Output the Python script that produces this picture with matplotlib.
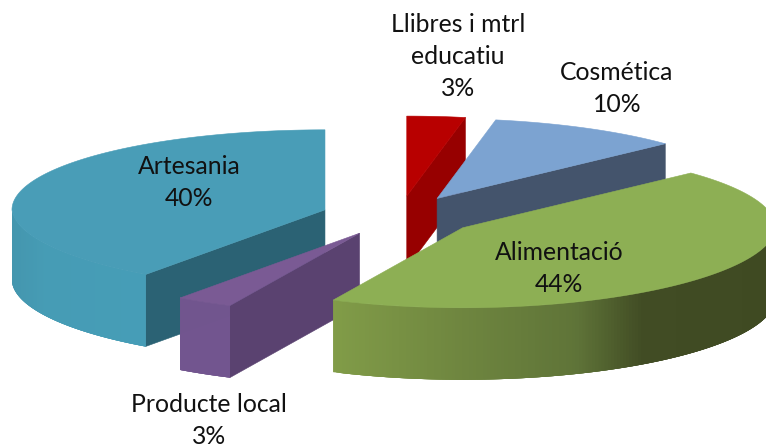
import numpy as np
import matplotlib
matplotlib.use("Agg")
import matplotlib.pyplot as plt
from matplotlib.colors import to_rgb
from matplotlib.collections import PolyCollection

# --- data (clockwise from 12 o'clock) ---
categories = ["Llibres i mtrl\neducatiu", "Cosmética", "Alimentació", "Producte local", "Artesania"]
values = [3, 10, 44, 3, 40]

# --- styles ---
top_colors = ["#B80000", "#7CA3D1", "#8DAF54", "#7A5A94", "#499DB7"]
cut_colors = ["#970000", "#44546C", "#5E7338", "#5A4270", "#2B6274"]
rim_stops = [
    [(0, "#970000"), (1, "#970000")],
    [(0, "#44546C"), (1, "#44546C")],
    [(0, "#819C48"), (0.3, "#6E853F"), (0.55, "#5F7438"), (0.7, "#414C24"), (1, "#3F4A22")],
    [(0, "#72558F"), (1, "#72558F")],
    [(0, "#4496AE"), (0.25, "#469CB5"), (1, "#469DB7")],
]
draw_order = [0, 1, 4, 3, 2]
label_pos = {0: (458, 25), 1: (617, 73), 2: (559, 252), 3: (209, 404), 4: (189, 167)}
FONT = ["Lato", "DejaVu Sans"]
FS = 17.8
LINE = 32

# --- pie geometry ---
A, B = 313.0, 80.0
CX, CY = 399.4, 216.0
EXPLODE = 0.25
DEPTH = 72.0

fig = plt.figure(figsize=(7.66, 4.47), dpi=100)
ax = fig.add_axes([0, 0, 1, 1])
ax.set_xlim(0, 766)
ax.set_ylim(447, 0)
ax.axis("off")


def project(deg, cx, cy):
    t = np.radians(deg)
    warp = 1 - 0.03 * np.maximum(0, -np.cos(t))
    return cx + A * np.sin(t) * warp, cy - B * np.cos(t)


def ramp(stops, u):
    xs = [s[0] for s in stops]
    rgb = np.array([to_rgb(s[1]) for s in stops])
    return [np.interp(u, xs, rgb[:, c]) for c in range(3)]


share = np.array(values, float) / np.sum(values) * 360
start = np.concatenate([[0], np.cumsum(share)[:-1]])
end = start + share

for i in draw_order:
    z = draw_order.index(i) * 3
    mid = np.radians((start[i] + end[i]) / 2)
    cx = CX + A * EXPLODE * np.sin(mid)
    cy = CY - B * EXPLODE * np.cos(mid)
    ts = np.linspace(start[i], end[i], 240)
    xa, ya = project(ts, cx, cy)

    # cut faces that look toward the viewer
    visible_edges = []
    if 180 < start[i] < 360:
        visible_edges.append(start[i])
    if 0 < end[i] < 180:
        visible_edges.append(end[i])
    for edge in visible_edges:
        ex, ey = project(edge, cx, cy)
        ax.fill([cx, ex, ex, cx], [cy, ey, ey + DEPTH, cy + DEPTH],
                color=cut_colors[i], lw=0.4, zorder=z + 1)

    # visible rim: the front half of the ellipse, as overlapping strips
    mask = (ts >= 90) & (ts <= 270)
    if mask.any():
        xr, yr = xa[mask], ya[mask]
        order = np.argsort(xr)
        xr, yr = xr[order], yr[order]
        lo, hi = xr.min(), xr.max()
        polys, cols = [], []
        for k in range(len(xr) - 1):
            m = min(k + 4, len(xr) - 1)
            polys.append([(xr[k], yr[k]), (xr[m], yr[m]),
                          (xr[m], yr[m] + DEPTH), (xr[k], yr[k] + DEPTH)])
            cols.append(ramp(rim_stops[i], ((xr[k] + xr[k + 1]) / 2 - lo) / (hi - lo)))
        ax.add_collection(PolyCollection(polys, facecolors=cols, edgecolors="none",
                                         linewidths=0, zorder=z + 1))

    # top surface
    ax.fill(np.r_[cx, xa], np.r_[cy, ya], color=top_colors[i], lw=0.4, zorder=z + 2)

    # label
    lx, ly = label_pos[i]
    lines = categories[i].split("\n") + [f"{values[i]}%"]
    for n, line in enumerate(lines):
        ax.text(lx, ly + n * LINE, line, ha="center", va="center", family=FONT,
                fontsize=FS, color="#111111", zorder=100)

fig.savefig("out.png", dpi=100)
